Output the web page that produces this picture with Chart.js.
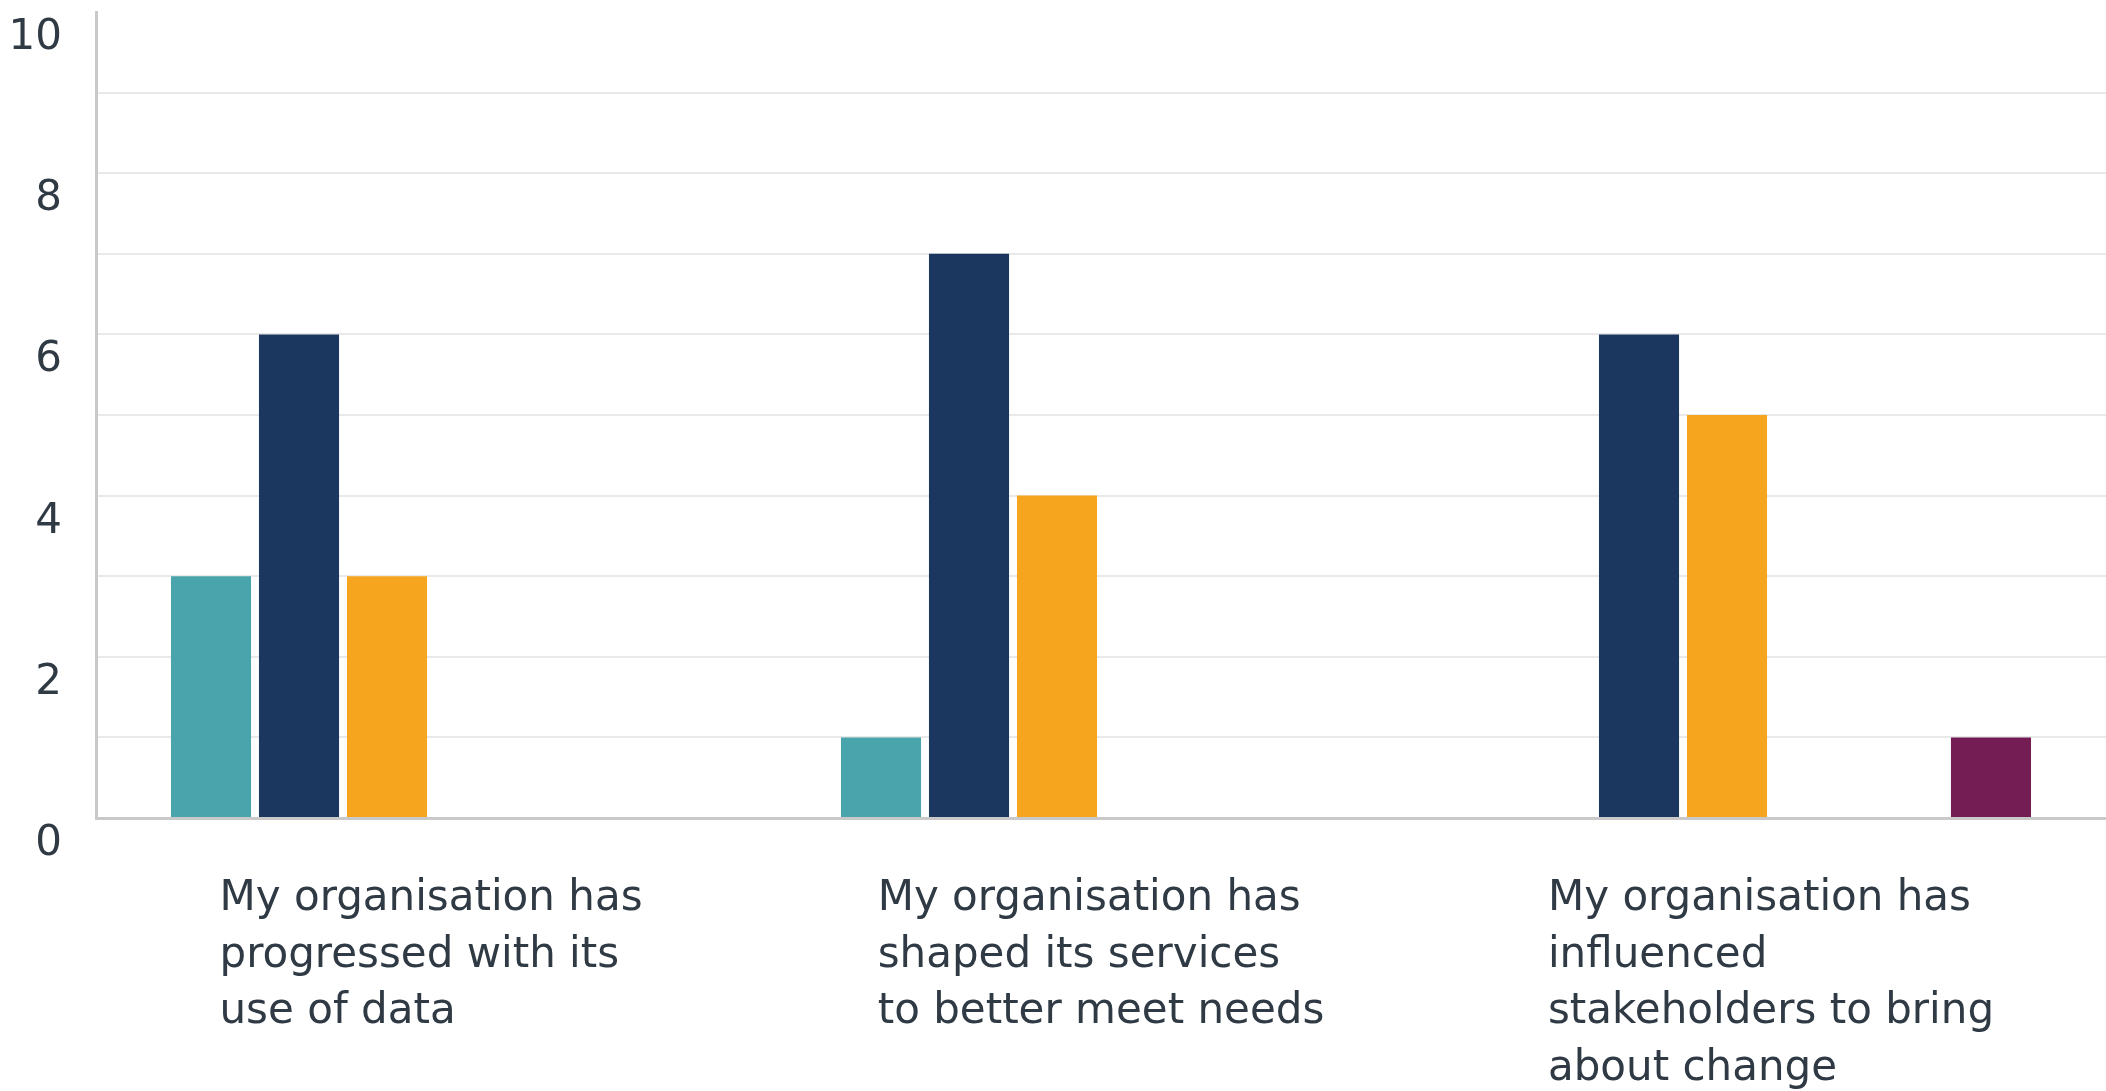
<!DOCTYPE html>
<html><head><meta charset="utf-8">
<script src="https://cdn.jsdelivr.net/npm/chart.js@4"></script>
<style>html,body{margin:0;padding:0;background:#fff;overflow:hidden}#wrap{width:2106px;height:1091px;position:relative}</style>
</head><body><div id="wrap"><canvas id="c"></canvas></div>
<script>
const categories = [
  ["My organisation has", "progressed with its", "use of data"],
  ["My organisation has", "shaped its services", "to better meet needs"],
  ["My organisation has", "influenced", "stakeholders to bring", "about change"]
];
const seriesNames = ["Strongly agree", "Agree", "Neither agree nor disagree", "Disagree", "Strongly disagree", "Don't know"];
const stronglyAgree = [3, 1, 0];
const agree = [6, 7, 6];
const neither = [3, 4, 5];
const disagree = [0, 0, 0];
const stronglyDisagree = [0, 0, 0];
const dontKnow = [0, 0, 1];
const yTickLabels = [0, 2, 4, 6, 8, 10];
const seriesColors = ['#49a5ab', '#1c375f', '#f6a51f', '#d9534f', '#8a8d91', '#731d54'];

const FONT_FAMILY = '"DejaVu Sans", sans-serif';
const FONT_SIZE = 42;
const LINE_HEIGHT = 56.5;
const LABEL_PAD = 53;
const TEXT_COLOR = '#2f3a44';
const mctx = document.createElement('canvas').getContext('2d');
mctx.font = FONT_SIZE + 'px ' + FONT_FAMILY;
function halfBlock(lines) {
  return Math.max(...lines.map(l => mctx.measureText(l).width)) / 2;
}

const values = [stronglyAgree, agree, neither, disagree, stronglyDisagree, dontKnow];
const datasets = seriesNames.map((n, i) => ({
  label: n,
  data: values[i],
  backgroundColor: seriesColors[i],
  borderWidth: 0,
  categoryPercentage: 0.788,
  barPercentage: 0.91
}));

const tickFont = {family: FONT_FAMILY, size: FONT_SIZE, lineHeight: 1.34};

// Category labels: block centred on the category tick, lines left-aligned.
const categoryLabels = {
  id: 'categoryLabels',
  afterDraw(chart) {
    const xs = chart.scales.x;
    const c = chart.ctx;
    c.save();
    c.font = FONT_SIZE + 'px ' + FONT_FAMILY;
    c.fillStyle = TEXT_COLOR;
    c.textAlign = 'left';
    c.textBaseline = 'middle';
    categories.forEach((lines, i) => {
      const left = xs.getPixelForTick(i) - halfBlock(lines);
      lines.forEach((ln, j) => {
        c.fillText(ln, left, xs.top + LABEL_PAD + LINE_HEIGHT * (j + 0.5));
      });
    });
    c.restore();
  }
};

new Chart(document.getElementById('c'), {
  type: 'bar',
  data: {labels: categories.map(l => l.join(' ')), datasets},
  plugins: [categoryLabels],
  options: {
    responsive: true,
    maintainAspectRatio: false,
    animation: false,
    layout: {padding: {top: 12, right: 0, bottom: 0, left: 0}},
    plugins: {legend: {display: false}, tooltip: {enabled: false}},
    scales: {
      x: {
        grid: {display: false, drawTicks: false},
        border: {display: true, color: '#c9c9c9', width: 3},
        ticks: {display: false},
        afterFit: s => { s.height = 273; s.paddingLeft = 0; s.paddingRight = 0; }
      },
      y: {
        min: 0, max: 10,
        grid: {
          color: ctx => (ctx.tick && (ctx.tick.value === 10 || ctx.tick.value === 0)) ? 'rgba(0,0,0,0)' : '#e9e9e9',
          lineWidth: 2, drawTicks: false
        },
        border: {color: '#c9c9c9', width: 3},
        ticks: {
          stepSize: 1, autoSkip: false, color: TEXT_COLOR, font: tickFont,
          padding: 34, align: 'start', labelOffset: 5,
          callback: v => yTickLabels.includes(v) ? String(v) : ''
        },
        afterFit: s => { s.width = 96; s.paddingTop = 0; s.paddingBottom = 0; }
      }
    }
  }
});
</script>
</body></html>
